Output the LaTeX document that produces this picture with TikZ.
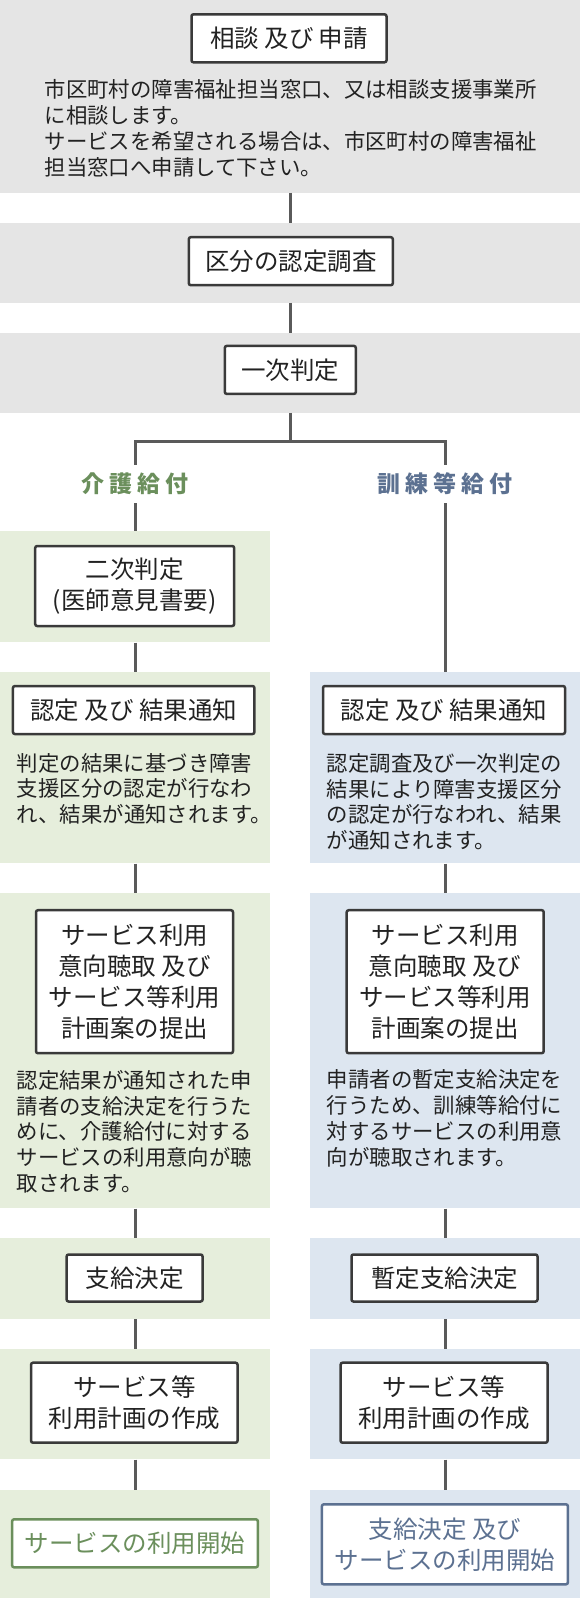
\documentclass[tikz,border=0pt]{standalone}
\usepackage{fontspec}
\setmainfont{Noto Sans CJK JP}
\usetikzlibrary{positioning}
\definecolor{ink}{HTML}{3A3A3A}
\definecolor{wire}{HTML}{5A5A5A}
\definecolor{paper}{HTML}{E5E5E5}
\definecolor{leaf}{HTML}{E6EEDC}
\definecolor{sky}{HTML}{DDE6F0}
\definecolor{moss}{HTML}{6B8F5C}
\definecolor{slate}{HTML}{5C7191}
\definecolor{txt}{HTML}{222222}
\newcommand{\gp}{\hspace{5pt}}

\begin{document}
\begin{tikzpicture}[x=1pt, y=-1pt,
  gband/.style={fill=paper, inner sep=0, minimum width=580pt},
  lband/.style={fill=leaf, inner sep=0, minimum width=270pt},
  rband/.style={fill=sky, inner sep=0, minimum width=270pt},
  mod/.style={draw=ink, line width=2.5pt, rounded corners=2pt, fill=white, inner sep=0,
              align=center, text=txt, font=\fontsize{24.5}{31}\selectfont},
  note/.style={anchor=west, inner sep=0, align=left, text=txt, font=\fontsize{21.4}{25.7}\selectfont},
  tag/.style={inner sep=0, minimum height=38pt, font=\fontsize{23}{26}\selectfont\bfseries},
  link/.style={line width=3pt, wire}
]
  \useasboundingbox (0,0) rectangle (580,1598);

  % bands
  \node[gband, minimum height=192.7pt] (g1) at (290,96.35) {};
  \node[gband, minimum height=79.7pt] (g2) at (290,262.85) {};
  \node[gband, minimum height=80pt] (g3) at (290,372.7) {};
  \node[lband, minimum height=111.3pt] (l1) at (135,586.65) {};
  \node[lband, minimum height=191pt] (l2) at (135,767.8) {};
  \node[rband, minimum height=191pt] (r2) at (445,767.8) {};
  \node[lband, minimum height=315pt] (l3) at (135,1050.8) {};
  \node[rband, minimum height=315pt] (r3) at (445,1050.8) {};
  \node[lband, minimum height=80.7pt] (l4) at (135,1278.65) {};
  \node[rband, minimum height=80.7pt] (r4) at (445,1278.65) {};
  \node[lband, minimum height=110pt] (l5) at (135,1404.3) {};
  \node[rband, minimum height=110pt] (r5) at (445,1404.3) {};
  \node[lband, minimum height=108pt] (l6) at (135,1544) {};
  \node[rband, minimum height=108pt] (r6) at (445,1544) {};

  % branch labels
  \node[tag, text=moss] (kaigo) at (135,484) {介\gp 護\gp 給\gp 付};
  \node[tag, text=slate] (kunren) at (445,484) {訓\gp 練\gp 等\gp 給\gp 付};
  \coordinate (fork) at (290,441.7);

  \draw[link] (g1) -- (g2);
  \draw[link] (g2) -- (g3);
  \draw[link] (g3.south) -- (fork);
  \draw[link] (fork) -| (kaigo.north);
  \draw[link] (fork) -| (kunren.north);
  \draw[link] (kaigo.south) -- (l1.north);
  \draw[link] (kunren.south) -- (r2.north);
  \draw[link] (l1) -- (l2);
  \draw[link] (l2) -- (l3);
  \draw[link] (r2) -- (r3);
  \draw[link] (l3) -- (l4);
  \draw[link] (r3) -- (r4);
  \draw[link] (l4) -- (l5);
  \draw[link] (r4) -- (r5);
  \draw[link] (l5) -- (l6);
  \draw[link] (r5) -- (r6);

  % common steps
  \node[mod, minimum width=195pt, minimum height=48pt] (soudan) at (289,38.3) {相談 及び 申請};
  \node[note] (soudantxt) at (44.4,128.3) {市区町村の障害福祉担当窓口、又は相談支援事業所\\に相談します。\\サービスを希望される場合は、市区町村の障害福祉\\担当窓口へ申請して下さい。};
  \node[mod, minimum width=204pt, minimum height=48pt] (kubun) at (290.8,261.2) {区分の認定調査};
  \node[mod, minimum width=131pt, minimum height=48pt] (ichiji) at (290.3,369.9) {一次判定};

  % care benefits
  \node[mod, minimum width=199pt, minimum height=80pt] (niji) at (134.7,586) {二次判定\\(医師意見書要)};
  \node[mod, minimum width=241.5pt, minimum height=48pt] (lnintei) at (133.7,710) {認定 及び 結果通知};
  \node[note] (lninteitxt) at (16.7,788.7) {判定の結果に基づき障害\\支援区分の認定が行なわ\\れ、結果が通知されます。};
  \node[mod, minimum width=197pt, minimum height=143pt] (lteian) at (134.5,981.7) {サービス利用\\意向聴取 及び\\サービス等利用\\計画案の提出};
  \node[note] (lteiantxt) at (16.6,1131.7) {認定結果が通知された申\\請者の支給決定を行うた\\めに、介護給付に対する\\サービスの利用意向が聴\\取されます。};
  \node[mod, minimum width=136pt, minimum height=47pt] (shikyu) at (134.6,1278) {支給決定};
  \node[mod, minimum width=206.5pt, minimum height=80pt] (lkeikaku) at (134.3,1402.7) {サービス等\\利用計画の作成};
  \node[mod, draw=moss, text=moss, minimum width=245.7pt, minimum height=48pt] (lkaishi) at (135,1543.3) {サービスの利用開始};

  % training benefits
  \node[mod, minimum width=242pt, minimum height=48pt] (rnintei) at (444,710) {認定 及び 結果通知};
  \node[note] (rninteitxt) at (326.7,801.8) {認定調査及び一次判定の\\結果により障害支援区分\\の認定が行なわれ、結果\\が通知されます。};
  \node[mod, minimum width=197pt, minimum height=143pt] (rteian) at (445.2,981.7) {サービス利用\\意向聴取 及び\\サービス等利用\\計画案の提出};
  \node[note] (rteiantxt) at (326.7,1118.3) {申請者の暫定支給決定を\\行うため、訓練等給付に\\対するサービスの利用意\\向が聴取されます。};
  \node[mod, minimum width=186pt, minimum height=47pt] (zantei) at (444.5,1278) {暫定支給決定};
  \node[mod, minimum width=207pt, minimum height=80pt] (rkeikaku) at (444.1,1402.7) {サービス等\\利用計画の作成};
  \node[mod, draw=slate, text=slate, minimum width=246pt, minimum height=80pt] (rkaishi) at (444.9,1544.3) {支給決定 及び\\サービスの利用開始};
\end{tikzpicture}
\end{document}
